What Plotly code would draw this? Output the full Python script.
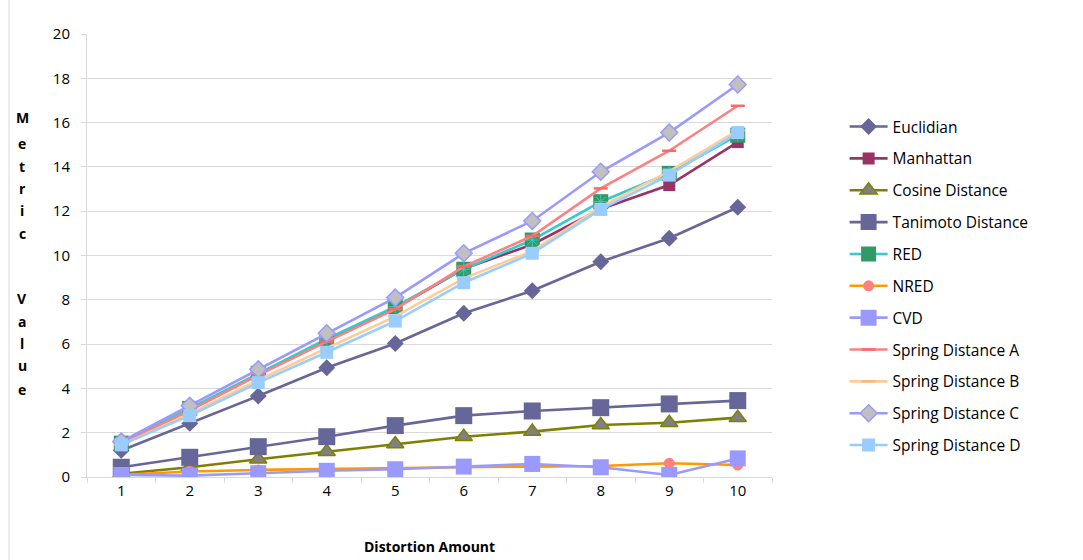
import plotly.graph_objects as go

# Distortion levels on the x axis
distortion = ["1", "2", "3", "4", "5", "6", "7", "8", "9", "10"]

# Metric values per distance measure
euclidian = [1.2, 2.42, 3.66, 4.93, 6.03, 7.39, 8.41, 9.72, 10.78, 12.18]
manhattan = [1.5, 3.05, 4.65, 6.18, 7.62, 9.4, 10.5, 12.1, 13.18, 15.12]
cosine = [0.15, 0.44, 0.8, 1.14, 1.49, 1.82, 2.05, 2.35, 2.45, 2.68]
tanimoto = [0.44, 0.89, 1.37, 1.82, 2.32, 2.77, 2.98, 3.13, 3.3, 3.45]
red = [1.53, 3.1, 4.68, 6.23, 7.69, 9.38, 10.7, 12.43, 13.71, 15.43]
nred = [0.1, 0.25, 0.32, 0.37, 0.42, 0.44, 0.47, 0.5, 0.62, 0.54]
cvd = [0.09, 0.06, 0.17, 0.28, 0.35, 0.47, 0.59, 0.44, 0.09, 0.84]
spring_a = [1.5, 3.0, 4.6, 6.11, 7.58, 9.5, 10.88, 13.03, 14.73, 16.76]
spring_b = [1.45, 2.85, 4.38, 5.8, 7.25, 8.97, 10.2, 12.2, 13.8, 15.65]
spring_c = [1.6, 3.22, 4.86, 6.49, 8.1, 10.1, 11.56, 13.78, 15.55, 17.72]
spring_d = [1.45, 2.77, 4.26, 5.63, 7.04, 8.77, 10.1, 12.08, 13.63, 15.55]

FONT = "Open Sans"

fig = go.Figure()


def add_series(name, values, line_color, symbol, size, fill, outline=None, outline_w=0, group=None):
    fig.add_trace(go.Scatter(
        x=distortion, y=values, name=name, mode="lines+markers",
        legendgroup=group or name,
        line=dict(color=line_color, width=2.6),
        marker=dict(symbol=symbol, size=size, color=fill,
                    line=dict(color=outline or fill, width=outline_w)),
    ))


add_series("Euclidian", euclidian, "#666699", "diamond", 13, "#666699")
add_series("Manhattan", manhattan, "#993366", "square", 12, "#993366")
add_series("Cosine Distance", cosine, "#808000", "triangle-up", 15, "#808080", "#808000", 1.5)
add_series("Tanimoto Distance", tanimoto, "#666699", "square", 17, "#666699")
add_series("RED", red, "#33CCCC", "square", 15, "#339966")
# asterisk detail on the RED squares
fig.add_trace(go.Scatter(
    x=distortion, y=red, mode="markers", legendgroup="RED", showlegend=False,
    marker=dict(symbol="asterisk-open", size=11, color="#33CCCC",
                line=dict(color="#33CCCC", width=1)),
    hoverinfo="skip",
))
add_series("NRED", nred, "#FF9900", "circle", 11, "#FF8080")
add_series("CVD", cvd, "#9999FF", "square", 16, "#9999FF")
add_series("Spring Distance A", spring_a, "#FF8080", "line-ew", 10, "#FF8080", "#FF6666", 2.5)
add_series("Spring Distance B", spring_b, "#FFCC99", "line-ew", 10, "#FFCC99", "#FFB870", 2.5)
add_series("Spring Distance C", spring_c, "#9999FF", "diamond", 13, "#C0C0C0", "#9999FF", 1.5)
add_series("Spring Distance D", spring_d, "#99CCFF", "square", 13, "#99CCFF")

# stacked letters for the y-axis title, one annotation per letter
PLOT_TOP, PLOT_BOTTOM, PLOT_LEFT, PLOT_W = 34, 477, 87, 685
title_letters = [("M", 118), ("e", 143), ("t", 166), ("r", 188), ("i", 210), ("c", 233),
                 ("V", 298), ("a", 321), ("l", 343), ("u", 365), ("e", 389)]
for letter, py in title_letters:
    fig.add_annotation(
        text=f"<b>{letter}</b>", xref="paper", yref="paper",
        x=(22 - PLOT_LEFT) / PLOT_W, y=(PLOT_BOTTOM - py) / (PLOT_BOTTOM - PLOT_TOP),
        xanchor="center", yanchor="middle", showarrow=False,
        font=dict(family=FONT, size=14, color="#000000"),
    )
fig.add_annotation(
    text="<b>Distortion Amount</b>", xref="paper", yref="paper",
    x=0.5, y=-0.158, xanchor="center", yanchor="middle", showarrow=False,
    font=dict(family=FONT, size=14, color="#000000"),
)

# outer chart border on the left
fig.add_shape(type="line", xref="paper", yref="paper",
              x0=-0.1139, x1=-0.1139, y0=-0.2, y1=1.08,
              line=dict(color="#D9D9D9", width=1))

fig.update_layout(
    width=1083, height=560,
    margin=dict(l=87, r=311, t=34, b=83),
    paper_bgcolor="white", plot_bgcolor="white",
    font=dict(family=FONT, size=14, color="#000000"),
    showlegend=True,
    legend=dict(
        x=1.106, y=0.8285, xanchor="left", yanchor="top",
        font=dict(family=FONT, size=15.5),
        tracegroupgap=8.7, traceorder="grouped", itemwidth=38,
        bgcolor="rgba(0,0,0,0)",
    ),
    xaxis=dict(
        type="category", tickson="boundaries", ticks="outside", ticklen=5,
        tickcolor="#D9D9D9", showline=True, linecolor="#D9D9D9", linewidth=1,
        showgrid=False, tickfont=dict(size=15), range=[-0.5, 9.5],
    ),
    yaxis=dict(
        range=[0, 20], dtick=2, ticks="outside", ticklen=5, tickcolor="#D9D9D9",
        showline=True, linecolor="#D9D9D9", linewidth=1,
        gridcolor="#D9D9D9", gridwidth=1, zeroline=False,
        tickfont=dict(size=15), ticklabelstandoff=8,
    ),
)

fig.write_html("out.html")
